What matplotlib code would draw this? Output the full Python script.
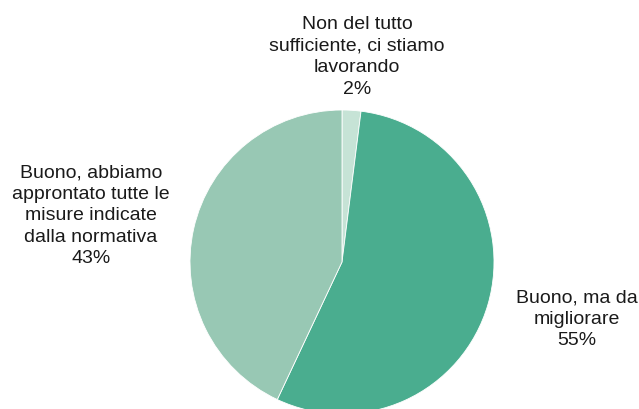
import matplotlib.pyplot as plt

plt.rcParams['font.family'] = ['Liberation Sans', 'DejaVu Sans']

labels = ['Non del tutto\nsufficiente, ci stiamo\nlavorando',
          'Buono, ma da\nmigliorare',
          'Buono, abbiamo\napprontato tutte le\nmisure indicate\ndalla normativa']
values = [2, 55, 43]
colors = ['#c6e3d6', '#4aad8f', '#98c8b4']

W, H = 639, 410
fig = plt.figure(figsize=(W / 100, H / 100), dpi=100)

# pie centre and radius in pixels
cx, cy, r = 342, 263, 152
ax = fig.add_axes([(cx - r) / W, (H - cy - r) / H, 2 * r / W, 2 * r / H])
ax.pie(values, colors=colors, startangle=90, counterclock=False,
       wedgeprops=dict(edgecolor='white', linewidth=0.6))
ax.set_xlim(-1, 1)
ax.set_ylim(-1, 1)
ax.set_aspect('equal')
ax.axis('off')

# label positions (pixels, centre of text block)
pos = [(357, 57), (577, 319), (91, 216)]
for lab, v, (x, y) in zip(labels, values, pos):
    fig.text(x / W, 1 - y / H, f'{lab}\n{v}%', ha='center', va='center',
             fontsize=14, color='#1a1a1a', linespacing=1.34)

fig.savefig('out.png', dpi=100)
